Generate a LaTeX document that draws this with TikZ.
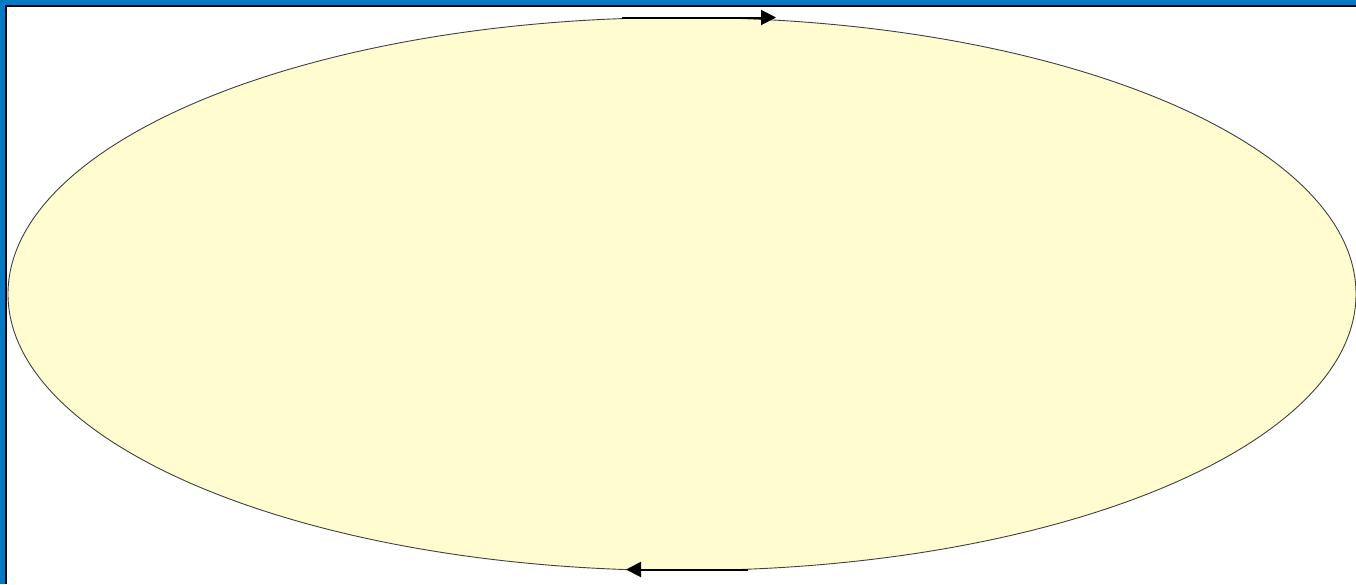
\documentclass[tikz,border=0pt]{standalone}
\usetikzlibrary{shapes.geometric,arrows.meta}
\definecolor{frameblue}{RGB}{0,122,194}
\definecolor{cream}{RGB}{255,253,208}
\tikzset{
  orbit/.style={ellipse,draw=black!75,line width=0.9pt,fill=cream,inner sep=0pt},
  flow/.style={draw=black,line width=2pt,-{Triangle[length=15pt,width=15pt]}}
}
\begin{document}
\begin{tikzpicture}[x=1pt,y=-1pt]
\useasboundingbox (0,0) rectangle (1356,584);
\fill[white] (0,0) rectangle (1356,584);
\fill[frameblue] (0,0) rectangle (1356,4.5);
\fill[frameblue] (0,0) rectangle (5,584);
\fill[black] (5,4.5) rectangle (1356,6.5);
\fill[black] (5,4.5) rectangle (7,584);
\node[orbit,minimum width=1348pt,minimum height=553pt] (orb) at (682,294) {};
\coordinate (t1) at (622,17.5);
\coordinate (t2) at (776,17.5);
\coordinate (b1) at (748,569.5);
\coordinate (b2) at (626,569.5);
\draw[flow] (t1) -- (t2);
\draw[flow] (b1) -- (b2);
\end{tikzpicture}
\end{document}
